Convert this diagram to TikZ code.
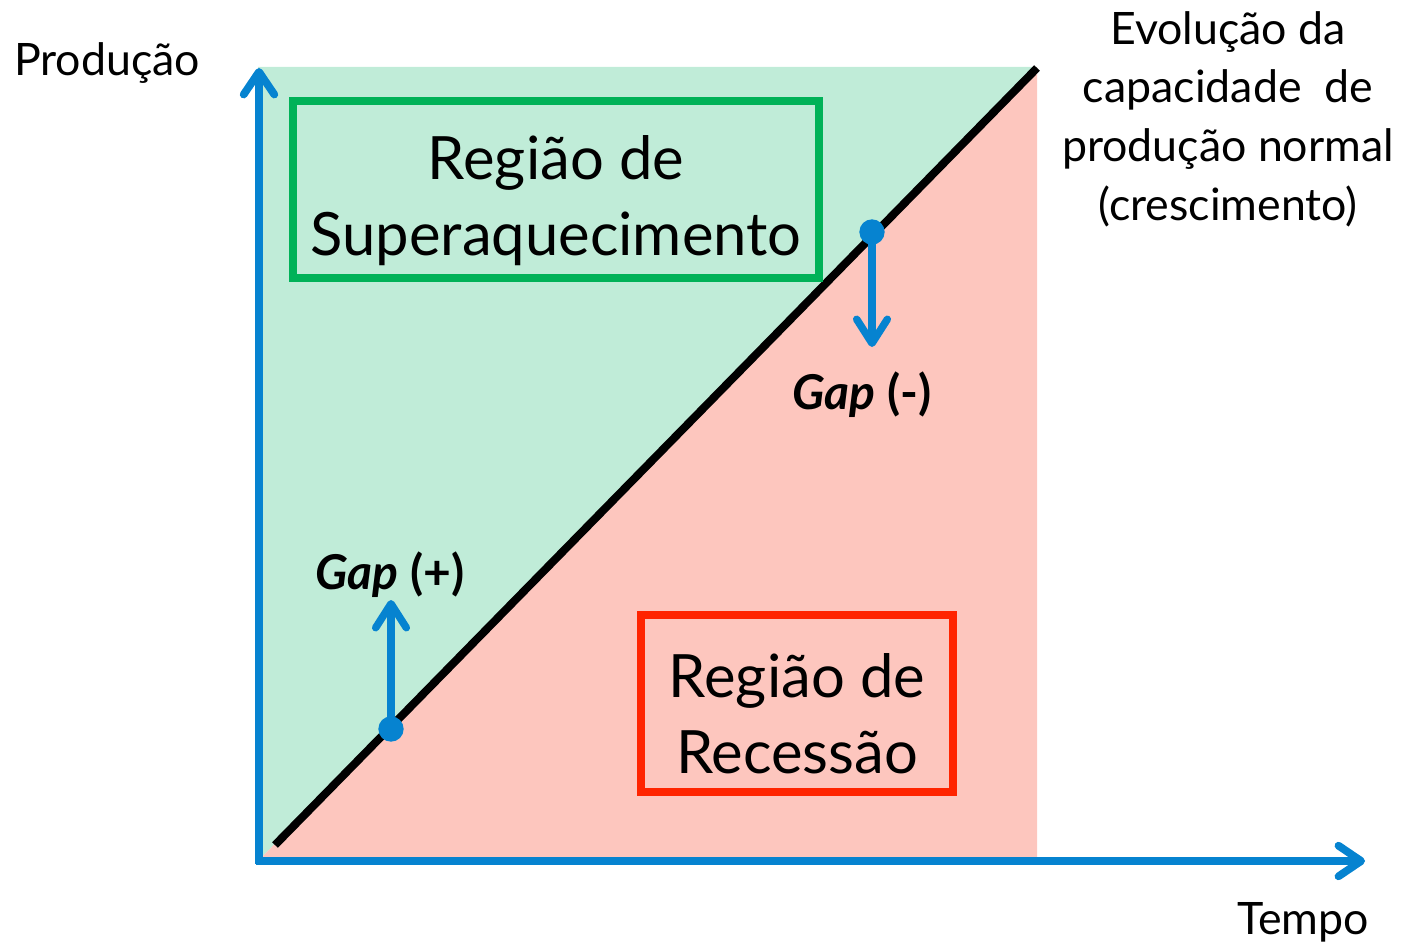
\documentclass[tikz,border=0pt]{standalone}
\usepackage{fontspec}
\setmainfont{Lato}
\usetikzlibrary{arrows.meta}
\definecolor{axisblue}{RGB}{6,131,208}
\definecolor{overgreen}{RGB}{192,236,216}
\definecolor{recpink}{RGB}{253,198,190}
\definecolor{boxgreen}{RGB}{0,178,88}
\definecolor{boxred}{RGB}{255,36,0}

\begin{document}
\begin{tikzpicture}[x=0.75pt,y=0.75pt,yscale=-1,xscale=1,
  axisline/.style={draw=axisblue,line width=5.8pt,-{Straight Barb[round,length=17pt,width=23pt]}},
  gaparrow/.style={draw=axisblue,line width=5.6pt,-{Straight Barb[round,length=18pt,width=23pt]}},
  gapdot/.style={circle,fill=axisblue,inner sep=0pt,minimum size=19pt},
  regionbox/.style={draw,line width=5.5pt,inner sep=0pt},
  boxtext/.style={inner sep=0pt,align=center,font=\fontsize{44.8}{57}\selectfont},
  plain/.style={inner sep=0.75pt,font=\fontsize{33.5}{44}\selectfont,align=center},
  gaptext/.style={inner sep=0.75pt,font=\fontsize{36}{40}\selectfont\bfseries}]
        \useasboundingbox (0,0) rectangle (1401,945);

        % Regions
        \fill[overgreen] (258,67) -- (1037,67) -- (258,861) -- cycle;
        \fill[recpink] (258,861) -- (1037,67) -- (1037,861) -- cycle;

        % Points
        \coordinate (O) at (259,864);
        \coordinate (ytip) at (259,68);
        \coordinate (xstart) at (256,861);
        \coordinate (xtip) at (1365,861);
        \coordinate (lstart) at (275,845);
        \coordinate (lend) at (1037,68);

        % Capacity line
        \draw[line width=6pt] (lstart) -- (lend);

        % Axes
        \draw[axisline] (O) -- (ytip);
        \draw[axisline] (xstart) -- (xtip);

        % Boxes
        \node[regionbox,draw=boxgreen,minimum width=394.5pt,minimum height=132.75pt] (superbox) at (556,189.5) {};
        \node[boxtext] (supertext) at ([yshift=8pt]superbox.center) {Região de\\Superaquecimento};
        \node[regionbox,draw=boxred,minimum width=234pt,minimum height=132.75pt] (recbox) at (797,703.5) {};
        \node[boxtext] (rectext) at ([yshift=8pt]recbox.center) {Região de\\Recessão};

        % Gap arrows
        \node[gapdot] (dotplus) at (391,729) {};
        \coordinate (plustip) at (391,600);
        \draw[gaparrow] (dotplus.center) -- (plustip);
        \node[gapdot] (dotminus) at (872,232) {};
        \coordinate (minustip) at (872,347);
        \draw[gaparrow] (dotminus.center) -- (minustip);

        % Text Node
        \node[gaptext] (gapplus) at (390,575) {\textit{Gap} (+)};
        % Text Node
        \node[gaptext] (gapminus) at (862,395) {\textit{Gap} (-)};
        % Text Node
        \node[plain] (prod) at (107,63) {Produção};
        % Text Node
        \node[plain] (tempo) at (1303,922) {Tempo};
        % Text Node
        \node[plain] (evol) at (1228,119) {Evolução da\\capacidade~ de\\produção normal\\(crescimento)};

\end{tikzpicture}
\end{document}
